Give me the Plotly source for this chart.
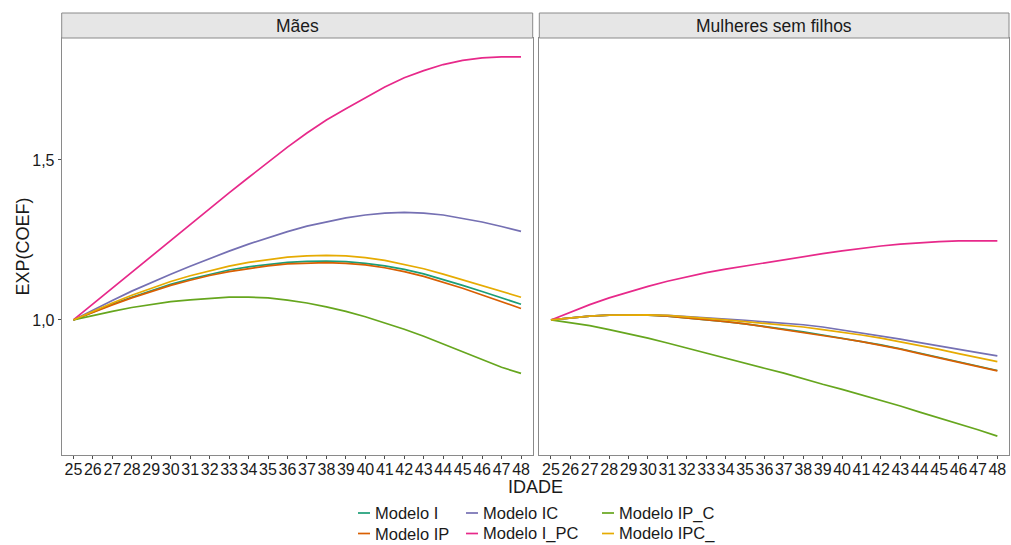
import plotly.graph_objects as go

# Idades (eixo x)
idade = list(range(25, 49))

# Mães
maes_I = [1.000, 1.025, 1.049, 1.071, 1.092, 1.111, 1.128, 1.143, 1.156, 1.166, 1.174, 1.180,
          1.183, 1.184, 1.182, 1.177, 1.169, 1.158, 1.144, 1.127, 1.108, 1.089, 1.069, 1.049]
maes_IP = [1.000, 1.024, 1.047, 1.069, 1.089, 1.108, 1.124, 1.139, 1.151, 1.161, 1.169, 1.175,
           1.178, 1.179, 1.177, 1.172, 1.163, 1.151, 1.136, 1.118, 1.099, 1.078, 1.057, 1.036]
maes_IC = [1.000, 1.031, 1.061, 1.090, 1.117, 1.143, 1.168, 1.192, 1.215, 1.237, 1.257, 1.276,
           1.293, 1.307, 1.319, 1.328, 1.334, 1.336, 1.334, 1.328, 1.318, 1.306, 1.292, 1.277]
maes_I_PC = [1.000, 1.050, 1.100, 1.150, 1.200, 1.250, 1.299, 1.348, 1.397, 1.445, 1.493, 1.540,
             1.584, 1.625, 1.660, 1.695, 1.728, 1.757, 1.779, 1.798, 1.811, 1.819, 1.822, 1.822]
maes_IP_C = [1.000, 1.014, 1.027, 1.039, 1.049, 1.057, 1.063, 1.068, 1.071, 1.071, 1.069, 1.062,
             1.053, 1.041, 1.027, 1.010, 0.991, 0.971, 0.949, 0.925, 0.900, 0.876, 0.852, 0.833]
maes_IPC_ = [1.000, 1.027, 1.053, 1.077, 1.099, 1.120, 1.138, 1.154, 1.168, 1.180, 1.189, 1.196,
             1.200, 1.202, 1.200, 1.195, 1.186, 1.174, 1.160, 1.143, 1.125, 1.108, 1.090, 1.071]

# Mulheres sem filhos
sf_I = [1.000, 1.007, 1.012, 1.015, 1.016, 1.015, 1.012, 1.007, 1.001, 0.995, 0.988, 0.980,
        0.972, 0.963, 0.953, 0.943, 0.933, 0.922, 0.910, 0.896, 0.882, 0.869, 0.855, 0.842]
sf_IP = [1.000, 1.007, 1.012, 1.015, 1.016, 1.015, 1.012, 1.007, 1.001, 0.995, 0.988, 0.979,
         0.971, 0.962, 0.952, 0.942, 0.932, 0.921, 0.909, 0.895, 0.881, 0.868, 0.854, 0.841]
sf_IC = [1.000, 1.007, 1.012, 1.015, 1.016, 1.016, 1.014, 1.011, 1.007, 1.003, 0.999, 0.995,
         0.990, 0.985, 0.978, 0.969, 0.960, 0.950, 0.940, 0.929, 0.918, 0.908, 0.898, 0.888]
sf_I_PC = [1.000, 1.025, 1.048, 1.069, 1.088, 1.105, 1.121, 1.135, 1.148, 1.159, 1.169, 1.179,
           1.189, 1.198, 1.207, 1.216, 1.224, 1.231, 1.237, 1.242, 1.245, 1.247, 1.247, 1.247]
sf_IP_C = [1.000, 0.992, 0.982, 0.970, 0.957, 0.943, 0.928, 0.912, 0.896, 0.879, 0.864, 0.849,
           0.834, 0.816, 0.799, 0.783, 0.766, 0.748, 0.731, 0.712, 0.694, 0.676, 0.657, 0.637]
sf_IPC_ = [1.000, 1.007, 1.012, 1.015, 1.016, 1.016, 1.014, 1.010, 1.005, 1.000, 0.995, 0.990,
           0.984, 0.978, 0.970, 0.962, 0.953, 0.943, 0.932, 0.920, 0.908, 0.895, 0.883, 0.870]

modelos = ["Modelo I", "Modelo IP", "Modelo IC", "Modelo I_PC", "Modelo IP_C", "Modelo IPC_"]
cores = ["#1B9E77", "#D95F02", "#7570B3", "#E7298A", "#66A61E", "#E6AB02"]
paineis = ["Mães", "Mulheres sem filhos"]
serie_maes = [maes_I, maes_IP, maes_IC, maes_I_PC, maes_IP_C, maes_IPC_]
serie_sf = [sf_I, sf_IP, sf_IC, sf_I_PC, sf_IP_C, sf_IPC_]

W, H = 1011, 545
FONT = "Liberation Sans, Arial, sans-serif"
TXT = "#1a1a1a"
BORDA = "#8a8a8a"


def fx(p):
    return p / W


def fy(p):
    return 1 - p / H


fig = go.Figure()
for nome, cor, ym, ys in zip(modelos, cores, serie_maes, serie_sf):
    fig.add_trace(go.Scatter(x=idade, y=ym, mode="lines", name=nome,
                             line=dict(color=cor, width=1.7), legendgroup=nome,
                             showlegend=False, xaxis="x", yaxis="y"))
    fig.add_trace(go.Scatter(x=idade, y=ys, mode="lines", name=nome,
                             line=dict(color=cor, width=1.7), legendgroup=nome,
                             showlegend=False, xaxis="x2", yaxis="y2"))

# painéis (px): esquerdo 61.7-532.7, direito 539.3-1009, topo 38, base 455
x_dom1 = [fx(61.7), fx(532.7)]
x_dom2 = [fx(539.3), fx(1009)]
y_dom = [fy(455), fy(38)]
yr = [0.578, 1.881]

eixo_x = dict(range=[24.4, 48.6], tickmode="array", tickvals=idade,
              ticktext=[str(a) for a in idade], ticks="outside", ticklen=3,
              tickcolor="#4d4d4d", tickwidth=1, tickangle=0, automargin=False,
              ticklabelstandoff=-3,
              showgrid=False, zeroline=False,
              showline=True, mirror=True, linecolor=BORDA, linewidth=1,
              tickfont=dict(family=FONT, size=16, color=TXT))

fig.update_layout(
    width=W, height=H, margin=dict(l=0, r=0, t=0, b=0),
    paper_bgcolor="white", plot_bgcolor="white",
    separators=",.",
    font=dict(family=FONT, color=TXT),
    showlegend=False,
    xaxis=dict(domain=x_dom1, anchor="y", **eixo_x),
    xaxis2=dict(domain=x_dom2, anchor="y2", **eixo_x),
    yaxis=dict(domain=y_dom, range=yr, tickmode="array", tickvals=[1.0, 1.5],
               tickformat=".1f", ticks="outside", ticklen=3, tickcolor="#4d4d4d",
               automargin=False, showgrid=False, zeroline=False, showline=True,
               mirror=True, linecolor=BORDA, linewidth=1,
               tickfont=dict(family=FONT, size=16, color=TXT)),
    yaxis2=dict(domain=y_dom, range=yr, anchor="x2", matches="y", automargin=False,
                showticklabels=False, ticks="", showgrid=False, zeroline=False,
                showline=True, mirror=True, linecolor=BORDA, linewidth=1),
)

# legenda em 2 linhas x 3 colunas (preenchida por coluna)
leg_x = [358, 358, 466, 466, 602, 602]
leg_y = [513, 533.5, 513, 533.5, 513, 533.5]
for nome, cor, lx, ly in zip(modelos, cores, leg_x, leg_y):
    fig.add_shape(type="line", xref="paper", yref="paper",
                  x0=fx(lx), x1=fx(lx + 12), y0=fy(ly), y1=fy(ly),
                  line=dict(color=cor, width=1.7))
    fig.add_annotation(xref="paper", yref="paper", x=fx(lx + 15), y=fy(ly),
                       text=nome, showarrow=False, xanchor="left", yanchor="middle",
                       font=dict(family=FONT, size=16.5, color=TXT))

# faixas dos painéis
for dom, titulo in zip([x_dom1, x_dom2], paineis):
    fig.add_shape(type="rect", xref="paper", yref="paper",
                  x0=dom[0], x1=dom[1], y0=fy(38), y1=fy(13),
                  fillcolor="#e6e6e6", line=dict(color=BORDA, width=1))
    fig.add_annotation(xref="paper", yref="paper", x=(dom[0] + dom[1]) / 2,
                       y=fy(25.5), text=titulo, showarrow=False,
                       font=dict(family=FONT, size=17.5, color=TXT),
                       xanchor="center", yanchor="middle")

# títulos dos eixos
fig.add_annotation(xref="paper", yref="paper", x=fx(535), y=fy(487), text="IDADE",
                   showarrow=False, font=dict(family=FONT, size=18, color=TXT),
                   xanchor="center", yanchor="middle")
fig.add_annotation(xref="paper", yref="paper", x=fx(22), y=fy(246.5), text="EXP(COEF)",
                   showarrow=False, textangle=-90,
                   font=dict(family=FONT, size=18, color=TXT),
                   xanchor="center", yanchor="middle")

fig.write_html("out.html")
